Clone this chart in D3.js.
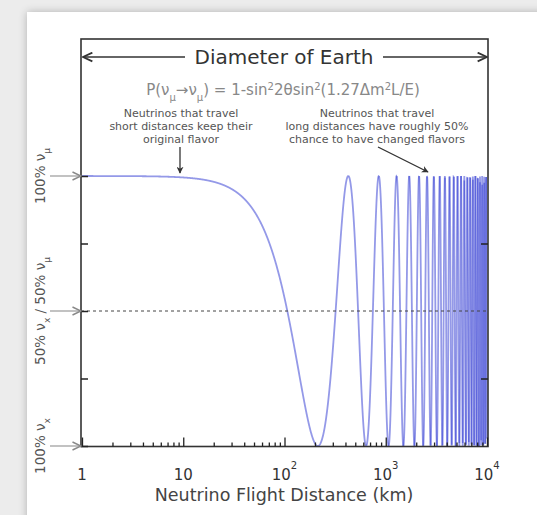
<!DOCTYPE html>
<html>
<head>
<meta charset="utf-8">
<script src="https://cdn.jsdelivr.net/npm/d3@7"></script>
<style>
  html, body { margin: 0; padding: 0; background: #ececec; }
  svg { display: block; font-family: "DejaVu Sans", "Liberation Sans", Arial, sans-serif; }
</style>
</head>
<body>
<svg id="chart" width="537" height="515"></svg>
<script>
// Oscillation parameters (two-flavour, maximal mixing)
const sin2_2theta = 1.0;
const deltaM2 = 0.0029;     // eV^2
const energy = 0.5;         // GeV
const distanceDomain = [1, 10000];   // km
const xTickValues = [1, 10, 100, 1000, 10000];
const xTickLabels = [["1", ""], ["10", ""], ["10", "2"], ["10", "3"], ["10", "4"]];
const yLevels = [1, 0.5, 0];
const yTickValues = [0, 0.25, 0.5, 0.75, 1];
const sampleCount = 3000;

// survival probability P(nu_mu -> nu_mu)
const phaseRate = 1.27 * deltaM2 / energy;   // rad per km
const survival = L => 1 - sin2_2theta * Math.pow(Math.sin(phaseRate * L), 2);

const svg = d3.select("#chart");

// paper panel with a soft shadow
const defs = svg.append("defs");
const f = defs.append("filter").attr("id", "shadow").attr("x", "-5%").attr("y", "-5%").attr("width", "110%").attr("height", "110%");
f.append("feGaussianBlur").attr("in", "SourceAlpha").attr("stdDeviation", 4);
f.append("feComponentTransfer").append("feFuncA").attr("type", "linear").attr("slope", 0.25);
const fm = f.append("feMerge");
fm.append("feMergeNode");
fm.append("feMergeNode").attr("in", "SourceGraphic");
svg.append("rect").attr("x", 27).attr("y", 12).attr("width", 530).attr("height", 520)
  .attr("fill", "#fff").attr("filter", "url(#shadow)");

const x = d3.scaleLog().domain(distanceDomain).range([82, 487]);
const y = d3.scaleLinear().domain([0, 1]).range([446, 176]);
const frame = { left: 81, right: 488, top: 39, bottom: 446.5 };

// arrowhead markers
defs.append("marker").attr("id", "chev").attr("viewBox", "0 0 10 10").attr("refX", 9.5).attr("refY", 5)
  .attr("markerWidth", 11).attr("markerHeight", 11).attr("markerUnits", "userSpaceOnUse").attr("orient", "auto")
  .append("path").attr("d", "M1,1 L9.5,5 L1,9").attr("fill", "none").attr("stroke", "#333").attr("stroke-width", 1.6);
defs.append("marker").attr("id", "chevGray").attr("viewBox", "0 0 10 10").attr("refX", 9.5).attr("refY", 5)
  .attr("markerWidth", 10).attr("markerHeight", 10).attr("markerUnits", "userSpaceOnUse").attr("orient", "auto")
  .append("path").attr("d", "M1,1 L9.5,5 L1,9").attr("fill", "none").attr("stroke", "#888").attr("stroke-width", 1.4);
defs.append("marker").attr("id", "head").attr("viewBox", "0 0 10 10").attr("refX", 9).attr("refY", 5)
  .attr("markerWidth", 7).attr("markerHeight", 7).attr("markerUnits", "userSpaceOnUse").attr("orient", "auto")
  .append("path").attr("d", "M0,0 L10,5 L0,10 L3,5 Z").attr("fill", "#333");

// oscillation curve, split into half-oscillation pieces so that dense
// regions build up a darker shade where the strokes overlap
const logs = d3.range(sampleCount + 1).map(i => i / sampleCount * 4);
const curve = logs.map(t => { const L = Math.pow(10, t); return [L, survival(L)]; });
const pieces = d3.groups(curve.map((d, i) => ({ d, i })), p => Math.floor(2 * phaseRate * p.d[0] / Math.PI))
  .map(([, pts]) => {
    const arr = pts.map(p => p.d);
    const next = curve[pts[pts.length - 1].i + 1];
    if (next) arr.push(next);
    return arr;
  });
const plot = svg.append("g");
plot.append("clipPath").attr("id", "clip").append("rect")
  .attr("x", frame.left).attr("y", frame.top).attr("width", frame.right - frame.left).attr("height", frame.bottom - frame.top + 1);
plot.append("g").attr("clip-path", "url(#clip)").selectAll("path").data(pieces).join("path")
  .attr("fill", "none").attr("stroke", "#2a34d2").attr("stroke-opacity", 0.5).attr("stroke-width", 1.8)
  .attr("d", d3.line().x(d => x(d[0])).y(d => y(d[1])));

// 50/50 dashed guide
svg.append("line").attr("x1", frame.left).attr("x2", frame.right).attr("y1", y(0.5)).attr("y2", y(0.5))
  .attr("stroke", "#444").attr("stroke-width", 1).attr("stroke-dasharray", "3,3");

// frame
svg.append("rect").attr("x", frame.left).attr("y", frame.top)
  .attr("width", frame.right - frame.left).attr("height", frame.bottom - frame.top)
  .attr("fill", "none").attr("stroke", "#333").attr("stroke-width", 1.6);

// x axis: inward ticks with decade minors
const xAxis = d3.axisTop(x).tickValues(
  d3.range(0, 4).flatMap(p => d3.range(1, 10).map(m => m * Math.pow(10, p))).concat([10000])
).tickSize(4).tickFormat("");
const gx = svg.append("g").attr("transform", `translate(0,${frame.bottom})`).call(xAxis);
gx.select(".domain").remove();
gx.selectAll(".tick line").attr("stroke", "#222").attr("stroke-width", 1.3)
  .attr("y2", d => (Math.abs(Math.log10(d) - Math.round(Math.log10(d))) < 1e-9 ? -9 : -4));

// x tick labels
const xl = svg.append("g").selectAll("text").data(xTickValues).join("text")
  .attr("x", d => x(d)).attr("y", 480).attr("text-anchor", "middle")
  .attr("font-size", 15).attr("fill", "#333");
xl.each(function (d, i) {
  const t = d3.select(this);
  t.append("tspan").text(xTickLabels[i][0]);
  if (xTickLabels[i][1]) t.append("tspan").attr("dy", -11).attr("font-size", 10).text(xTickLabels[i][1]);
});

// y ticks, both sides
const yAxisL = d3.axisRight(y).tickValues(yTickValues).tickSize(7).tickFormat("");
const gyl = svg.append("g").attr("transform", `translate(${frame.left},0)`).call(yAxisL);
gyl.select(".domain").remove();
gyl.selectAll(".tick line").attr("stroke", "#222").attr("stroke-width", 1.5);
const yAxisR = d3.axisLeft(y).tickValues([0.25, 0.75]).tickSize(7).tickFormat("");
const gyr = svg.append("g").attr("transform", `translate(${frame.right},0)`).call(yAxisR);
gyr.select(".domain").remove();
gyr.selectAll(".tick line").attr("stroke", "#222").attr("stroke-width", 1.5);

// pointer arrows to the flavour levels
svg.append("g").selectAll("line").data(yLevels).join("line")
  .attr("x1", 50).attr("x2", frame.left).attr("y1", d => y(d)).attr("y2", d => y(d))
  .attr("stroke", "#999").attr("stroke-width", 1.2).attr("marker-end", "url(#chevGray)");

// rotated flavour labels
const yLab = [
  { v: 1, parts: [["100% ν", ""], ["μ", "sub"]] },
  { v: 0.5, parts: [["50% ν", ""], ["x", "sub"], [" / 50% ν", ""], ["μ", "sub"]] },
  { v: 0, parts: [["100% ν", ""], ["x", "sub"]] }
];
yLab.forEach(l => {
  const t = svg.append("text").attr("transform", `translate(45,${y(l.v)}) rotate(-90)`)
    .attr("text-anchor", "middle").attr("font-size", 13.5).attr("fill", "#555");
  l.parts.forEach(p => {
    const s = t.append("tspan").text(p[0]);
    if (p[1] === "sub") s.attr("font-size", 9).attr("baseline-shift", "sub");
  });
});

// Diameter of Earth double arrow
const arrowY = 57;
svg.append("line").attr("x1", 185).attr("x2", frame.left + 2).attr("y1", arrowY).attr("y2", arrowY)
  .attr("stroke", "#333").attr("stroke-width", 1.6).attr("marker-end", "url(#chev)");
svg.append("line").attr("x1", 383).attr("x2", frame.right - 1).attr("y1", arrowY).attr("y2", arrowY)
  .attr("stroke", "#333").attr("stroke-width", 1.6).attr("marker-end", "url(#chev)");
svg.append("text").attr("x", 284).attr("y", 64).attr("text-anchor", "middle")
  .attr("font-size", 20).attr("fill", "#333").text("Diameter of Earth");

// formula
const fml = svg.append("text").attr("x", 283).attr("y", 95).attr("text-anchor", "middle")
  .attr("font-size", 15).attr("fill", "#888");
[["P(ν", 0], ["μ", 1], ["→ν", 0], ["μ", 1], [") = 1-sin", 0], ["2", 2], ["2θsin", 0], ["2", 2], ["(1.27Δm", 0], ["2", 2], ["L/E)", 0]]
  .forEach(p => {
    const s = fml.append("tspan").text(p[0]);
    if (p[1] === 1) s.attr("font-size", 10).attr("baseline-shift", "sub");
    if (p[1] === 2) s.attr("font-size", 10).attr("baseline-shift", "super");
  });

// annotations
const notes = [
  { cx: 181, lines: ["Neutrinos that travel", "short distances keep their", "original flavor"], from: [180, 147], to: [180, 173] },
  { cx: 377, lines: ["Neutrinos that travel", "long distances have roughly 50%", "chance to have changed flavors"], from: [378, 147], to: [428, 172] }
];
notes.forEach(n => {
  svg.append("g").selectAll("text").data(n.lines).join("text")
    .attr("x", n.cx).attr("y", (d, i) => 117 + i * 13).attr("text-anchor", "middle")
    .attr("font-size", 11).attr("fill", "#555").text(d => d);
  svg.append("line").attr("x1", n.from[0]).attr("y1", n.from[1]).attr("x2", n.to[0]).attr("y2", n.to[1])
    .attr("stroke", "#333").attr("stroke-width", 1.3).attr("marker-end", "url(#head)");
});

// x axis title
svg.append("text").attr("x", 284).attr("y", 501).attr("text-anchor", "middle")
  .attr("font-size", 17.5).attr("fill", "#444").text("Neutrino Flight Distance (km)");
</script>
</body>
</html>
